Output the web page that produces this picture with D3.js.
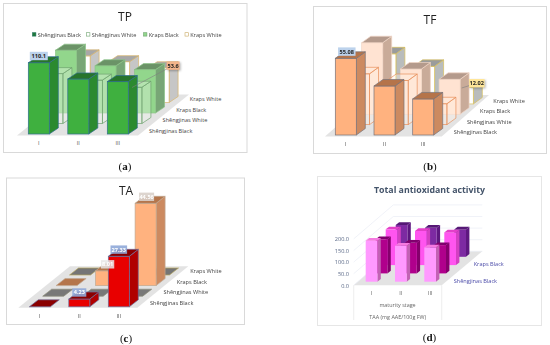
<!DOCTYPE html>
<html>
<head>
<meta charset="utf-8">
<script src="https://cdn.jsdelivr.net/npm/d3@7"></script>
<style>
  html, body { margin: 0; padding: 0; background: #fff; }
  svg { display: block; filter: blur(0.3px); font-family: "Open Sans", sans-serif; }
</style>
</head>
<body>
<div class="workspace"></div>
<script>
const categories = ['I', 'II', 'III'];
const rowNames = ['Shēngjinas Black', 'Shēngjinas White', 'Kraps Black', 'Kraps White'];

const tpShengjinasBlack = [110.1, 85, 81];
const tpShengjinasWhite = [77, 67, 56];
const tpKrapsBlack = [97, 73, 67];
const tpKrapsWhite = [72, 63, 53.6];

const tfShengjinasBlack = [55.08, 35.2, 25.9];
const tfShengjinasWhite = [36.5, 31.7, 15];
const tfKrapsBlack = [51.4, 32.5, 25.1];
const tfKrapsWhite = [36, 27, 12.02];

const taShengjinasBlack = [0, 4.23, 27.33];
const taShengjinasWhite = [0, 0, 0];
const taKrapsBlack = [0, 8.01, 44.56];
const taKrapsWhite = [0, 0, 0];

const taaShengjinasBlack = [177, 155, 148];
const taaShengjinasWhite = [147, 132, 122];
const taaKrapsBlack = [154, 147, 141];
const taaKrapsWhite = [137, 125, 118];
const taaTicks = [0, 50, 100, 150, 200];

const svgDom = d3
  .select('.workspace')
  .append('svg')
  .attr('width', 550)
  .attr('height', 345);

const palette = {
  tp: [
    { front: '#3fb03f', side: '#2b8a2f', top: '#27752b', stroke: '#2f6f8f', opacity: 1 },
    { front: '#f4fbf2', side: '#eef7ec', top: '#f4fbf2', stroke: '#6fa36f', opacity: 0.35 },
    { front: '#92d68c', side: '#78a676', top: '#6b9367', stroke: '#8cc488', opacity: 1 },
    { front: '#ffffff', side: '#c6c6c6', top: '#a8a8a8', stroke: '#d8b46c', opacity: 1 },
  ],
  tf: [
    { front: '#ffb27f', side: '#cc8a60', top: '#b5744a', stroke: '#77727a', opacity: 1 },
    { front: '#fff0e6', side: '#fff0e6', top: '#fff0e6', stroke: '#e8905c', opacity: 0.35 },
    { front: '#ffe3d2', side: '#c9ab99', top: '#b49a8c', stroke: '#f0d6c6', opacity: 1 },
    { front: '#ffffff', side: '#b9bcbc', top: '#9a9c9c', stroke: '#d8c05a', opacity: 1 },
  ],
  ta: [
    { front: '#e80000', side: '#b00000', top: '#8a0000', stroke: '#6f6f9c', opacity: 1 },
    { front: '#ffffff', side: '#999999', top: '#787878', stroke: '#8c8c78', opacity: 1 },
    { front: '#ffb27f', side: '#cc8a60', top: '#b5764c', stroke: '#c0a890', opacity: 1 },
    { front: '#ffffff', side: '#888888', top: '#757575', stroke: '#b8a860', opacity: 1 },
  ],
  taa: [
    { front: '#ff99ff', side: '#c262b4', top: '#f57ae0', stroke: 'none', opacity: 1 },
    { front: '#b0008c', side: '#85006c', top: '#80006e', stroke: 'none', opacity: 1 },
    { front: '#ff55ef', side: '#d340c2', top: '#e33fc8', stroke: 'none', opacity: 1 },
    { front: '#7d2aa2', side: '#5e1880', top: '#561876', stroke: 'none', opacity: 1 },
  ],
};

function polygonPoints(corners) {
  return corners.map((c) => c.join(',')).join(' ');
}

// one 3d bar panel, rows run from the front of the floor to the back
function drawPanel(p) {
  const g = svgDom.append('g');

  g.append('rect')
    .attr('x', p.frame[0])
    .attr('y', p.frame[1])
    .attr('width', p.frame[2] - p.frame[0])
    .attr('height', p.frame[3] - p.frame[1])
    .style('fill', '#fff')
    .style('stroke', p.frameColor || '#d9d9d9')
    .style('stroke-width', 1);

  const x = d3
    .scaleBand()
    .domain(categories)
    .range([p.barLeft, p.barRight])
    .paddingInner(1 - p.barWidth / p.barStep)
    .paddingOuter(0);
  const rowX = d3.scalePoint().domain(rowNames).range([0, p.rowDx * 3]);
  const rowY = d3.scalePoint().domain(rowNames).range([0, p.rowDy * 3]);
  const h = d3.scaleLinear().domain([0, p.scaleValue]).range([0, p.scalePx]);

  // floor
  g.append('polygon')
    .attr('points', polygonPoints(p.floor))
    .style('fill', '#e3e3e3');

  if (p.drawExtras) {
    p.drawExtras(g, x);
  }

  const bars = [];
  rowNames.forEach((row, r) => {
    categories.forEach((cat, c) => {
      bars.push({ row, cat, value: p.series[r][c], style: p.styles[r], r });
    });
  });
  bars.sort((a, b) => b.r - a.r);

  const barDom = g
    .selectAll('g.bar')
    .data(bars)
    .enter()
    .append('g')
    .attr('class', 'bar');

  function corners(d) {
    const left = x(d.cat) + rowX(d.row);
    const right = left + x.bandwidth();
    const base = p.baseY - rowY(d.row);
    const top = base - h(d.value);
    return { left, right, base, top };
  }

  barDom
    .filter((d) => d.value > 0)
    .append('polygon')
    .attr('points', function (d) {
      const b = corners(d);
      return polygonPoints([
        [b.right, b.top],
        [b.right + p.depthX, b.top - p.depthY],
        [b.right + p.depthX, b.base - p.depthY],
        [b.right, b.base],
      ]);
    })
    .style('fill', (d) => d.style.side)
    .style('fill-opacity', (d) => d.style.opacity)
    .style('stroke', (d) => d.style.stroke)
    .style('stroke-width', 0.7);

  barDom
    .filter((d) => d.value > 0)
    .append('rect')
    .attr('x', (d) => corners(d).left)
    .attr('y', (d) => corners(d).top)
    .attr('width', x.bandwidth())
    .attr('height', (d) => h(d.value))
    .style('fill', (d) => d.style.front)
    .style('fill-opacity', (d) => d.style.opacity)
    .style('stroke', (d) => d.style.stroke)
    .style('stroke-width', 0.7);

  barDom
    .append('polygon')
    .attr('points', function (d) {
      const b = corners(d);
      return polygonPoints([
        [b.left, b.top],
        [b.right, b.top],
        [b.right + p.depthX, b.top - p.depthY],
        [b.left + p.depthX, b.top - p.depthY],
      ]);
    })
    .style('fill', (d) => d.style.top)
    .style('fill-opacity', (d) => d.style.opacity)
    .style('stroke', (d) => d.style.stroke)
    .style('stroke-width', 0.7);

  // category axis
  const axis = g
    .append('g')
    .attr('transform', `translate(${p.axisDx},${p.axisY})`)
    .call(d3.axisBottom(x).tickSize(0).tickPadding(0));
  axis.select('.domain').remove();
  axis
    .selectAll('text')
    .attr('dy', 0)
    .style('font-size', '5.5px')
    .style('font-family', '"Open Sans", sans-serif')
    .style('fill', p.tickColor || '#555');

  // series names along the right edge of the floor
  g.selectAll('text.rowName')
    .data(p.rowLabels || rowNames)
    .enter()
    .append('text')
    .attr('class', 'rowName')
    .attr('x', (d) => p.rowLabelX + rowX(d))
    .attr('y', (d) => p.rowLabelY - rowY(d))
    .style('font-size', '5.6px')
    .style('fill', p.rowLabelColor || '#444')
    .text((d) => d);

  // leader lines and value labels
  (p.valueLabels || []).forEach((l) => {
    const bar = bars.find((d) => d.r === l.r && d.cat === l.cat);
    const b = corners(bar);
    const cx = b.left + x.bandwidth() / 2 + l.dx;
    const cy = b.top + l.dy;
    if (l.leader) {
      g.append('line')
        .attr('x1', l.leader[0])
        .attr('y1', l.leader[1])
        .attr('x2', cx)
        .attr('y2', cy)
        .style('stroke', '#808080')
        .style('stroke-width', 0.6);
    }
    const box = g
      .append('rect')
      .attr('x', cx - l.w / 2)
      .attr('y', cy - 4.2)
      .attr('width', l.w)
      .attr('height', 8.4)
      .style('fill', l.fill)
      .style('fill-opacity', l.alpha || 1);
    if (l.shadow) {
      box.style('filter', 'drop-shadow(1px 1px 1px rgba(0,0,0,0.3))');
    }
    g.append('text')
      .attr('x', cx)
      .attr('y', cy + 2)
      .attr('text-anchor', 'middle')
      .style('font-size', '5.6px')
      .style('font-weight', 700)
      .style('fill', l.color || '#222')
      .text(d3.format(l.format || '')(bar.value));
  });

  // title
  g.append('text')
    .attr('x', p.titleX)
    .attr('y', p.titleY)
    .attr('text-anchor', 'middle')
    .style('font-size', p.titleSize || '12px')
    .style('font-weight', p.titleWeight || 400)
    .style('fill', p.titleColor || '#222')
    .text(p.title);

  // panel letter
  const letter = g
    .append('text')
    .attr('x', p.titleX)
    .attr('y', p.letterY)
    .attr('text-anchor', 'middle')
    .style('font-family', '"Liberation Serif", serif')
    .style('font-size', '11px')
    .style('fill', '#111');
  letter.append('tspan').text('(');
  letter.append('tspan').style('font-weight', 700).text(p.letter);
  letter.append('tspan').text(')');

  return g;
}

drawPanel({
  title: 'TP',
  letter: 'a',
  frame: [3.5, 3.5, 247, 152.5],
  titleX: 125,
  titleY: 21,
  letterY: 170,
  barLeft: 28.3,
  barRight: 128.3,
  barWidth: 21,
  barStep: 39.5,
  rowDx: 13.6,
  rowDy: 10.5,
  depthX: 9,
  depthY: 6,
  baseY: 134,
  scaleValue: 110.1,
  scalePx: 71.3,
  floor: [[17, 135.5], [138, 135.5], [189, 94.5], [68, 94.5]],
  axisDx: 0,
  axisY: 145,
  rowLabelX: 149,
  rowLabelY: 132.5,
  series: [tpShengjinasBlack, tpShengjinasWhite, tpKrapsBlack, tpKrapsWhite],
  styles: palette.tp,
  valueLabels: [
    { r: 0, cat: 'I', dx: 0, dy: -6.7, w: 18, fill: '#bcd2ec' },
    { r: 3, cat: 'III', dx: 14.5, dy: -2.2, w: 13, fill: '#f4b48a', shadow: true, leader: [132, 87.5] },
  ],
});

drawPanel({
  title: 'TF',
  letter: 'b',
  frame: [313.5, 6.5, 546.5, 153.5],
  titleX: 430,
  titleY: 24,
  letterY: 170,
  barLeft: 335.3,
  barRight: 433.7,
  barWidth: 21,
  barStep: 38.7,
  rowDx: 13.2,
  rowDy: 10.35,
  depthX: 9,
  depthY: 6.5,
  baseY: 135,
  scaleValue: 55.08,
  scalePx: 76.7,
  floor: [[325, 136.5], [441.7, 136.5], [489, 95], [372, 95]],
  axisDx: 0,
  axisY: 146,
  rowLabelX: 453.7,
  rowLabelY: 134,
  series: [tfShengjinasBlack, tfShengjinasWhite, tfKrapsBlack, tfKrapsWhite],
  styles: palette.tf,
  valueLabels: [
    { r: 0, cat: 'I', dx: 1, dy: -6.7, w: 17.5, fill: '#bcd2ec', format: '.2f' },
    { r: 3, cat: 'III', dx: 14, dy: -4, w: 15.5, fill: '#ffe699', shadow: true, format: '.2f', leader: [461.7, 88] },
  ],
});

drawPanel({
  title: 'TA',
  letter: 'c',
  frame: [6.5, 178, 244.5, 324.5],
  titleX: 126,
  titleY: 195,
  letterY: 342,
  barLeft: 29.3,
  barRight: 129.3,
  barWidth: 21,
  barStep: 39.5,
  rowDx: 13.4,
  rowDy: 10.6,
  depthX: 9,
  depthY: 7,
  baseY: 306.8,
  scaleValue: 44.56,
  scalePx: 82.3,
  floor: [[18.3, 307.7], [137.3, 307.7], [188.3, 266.3], [70, 266.3]],
  axisDx: 0,
  axisY: 317.5,
  rowLabelX: 150,
  rowLabelY: 305,
  series: [taShengjinasBlack, taShengjinasWhite, taKrapsBlack, taKrapsWhite],
  styles: palette.ta,
  valueLabels: [
    { r: 0, cat: 'II', dx: 0, dy: -6.5, w: 14, fill: '#8fa9d8', color: '#fff', format: '.2f', alpha: 0.9 },
    { r: 0, cat: 'III', dx: 0, dy: -6.7, w: 16.6, fill: '#8fa9d8', color: '#fff', format: '.2f', alpha: 0.9 },
    { r: 2, cat: 'II', dx: 1.5, dy: -6.5, w: 13.3, fill: '#e6e6e6', color: '#fff', format: '.2f', alpha: 0.85 },
    { r: 2, cat: 'III', dx: 1, dy: -6.5, w: 15, fill: '#d9d0ca', color: '#fff', format: '.2f', alpha: 0.9 },
  ],
});

drawPanel({
  title: 'Total antioxidant activity',
  letter: 'd',
  frame: [317.5, 176.5, 541.5, 325.5],
  frameColor: '#e6e6e6',
  titleX: 429.5,
  titleY: 192.5,
  titleSize: '8.8px',
  titleWeight: 700,
  titleColor: '#44546a',
  letterY: 341,
  barLeft: 365.7,
  barRight: 436,
  barWidth: 11.7,
  barStep: 29.3,
  rowDx: 10,
  rowDy: 8.3,
  depthX: 3.4,
  depthY: 2.7,
  baseY: 281.7,
  scaleValue: 200,
  scalePx: 46.4,
  floor: [[353.7, 285.3], [441.7, 285.3], [482.3, 251.3], [393.3, 251.3]],
  axisDx: 0,
  axisY: 294.5,
  rowLabels: ['Shēngjinas Black', 'Kraps Black'],
  rowLabelX: 453.7,
  rowLabelY: 283,
  rowLabelColor: '#4a4aa8',
  tickColor: '#666',
  series: [taaShengjinasBlack, taaShengjinasWhite, taaKrapsBlack, taaKrapsWhite],
  styles: palette.taa,
  drawExtras: function (g) {
    const y = d3.scaleLinear().domain([0, 200]).range([285.3, 238.9]);
    const wallLine = d3.line();

    // gridlines over the side wall and back wall
    g.selectAll('path.grid')
      .data(taaTicks)
      .enter()
      .append('path')
      .attr('class', 'grid')
      .attr('d', (d) =>
        wallLine([
          [353.7, y(d)],
          [393.3, y(d) - 34],
          [482.3, y(d) - 34],
        ])
      )
      .style('fill', 'none')
      .style('stroke', '#e9edf5')
      .style('stroke-width', 0.7);

    const axis = g
      .append('g')
      .attr('transform', 'translate(349,0)')
      .call(
        d3.axisLeft(y).tickValues(taaTicks).tickFormat(d3.format('.1f')).tickSize(0).tickPadding(0)
      );
    axis.select('.domain').remove();
    axis
      .selectAll('text')
      .style('font-size', '5.6px')
      .style('font-family', '"Open Sans", sans-serif')
      .style('fill', '#5c6a88');

    // the multi-level axis table under the floor
    g.selectAll('line.tableLine')
      .data([353.7, 441.7])
      .enter()
      .append('line')
      .attr('class', 'tableLine')
      .attr('x1', (d) => d)
      .attr('x2', (d) => d)
      .attr('y1', 285.3)
      .attr('y2', 320)
      .style('stroke', '#e6e6e6')
      .style('stroke-width', 0.7);

    g.append('text')
      .attr('x', 397.5)
      .attr('y', 306.7)
      .attr('text-anchor', 'middle')
      .style('font-size', '5.4px')
      .style('fill', '#666')
      .text('maturity stage');
    g.append('text')
      .attr('x', 397.7)
      .attr('y', 319)
      .attr('text-anchor', 'middle')
      .style('font-size', '5.4px')
      .style('fill', '#666')
      .text('TAA (mg AAE/100g FW)');
  },
});

// legend of the TP panel
const legendItems = [
  { name: rowNames[0], x: 32.5, fill: '#1f7a3a', stroke: '#1f6f5a' },
  { name: rowNames[1], x: 86.5, fill: '#ffffff', stroke: '#6fa36f' },
  { name: rowNames[2], x: 143.5, fill: '#92d68c', stroke: '#6fa36f' },
  { name: rowNames[3], x: 185, fill: '#ffffff', stroke: '#c8a860' },
];
const legendDom = svgDom.append('g');
legendDom
  .selectAll('rect')
  .data(legendItems)
  .enter()
  .append('rect')
  .attr('x', (d) => d.x)
  .attr('y', 32.7)
  .attr('width', 3.4)
  .attr('height', 3.4)
  .style('fill', (d) => d.fill)
  .style('stroke', (d) => d.stroke)
  .style('stroke-width', 0.6);
legendDom
  .selectAll('text')
  .data(legendItems)
  .enter()
  .append('text')
  .attr('x', (d) => d.x + 5.2)
  .attr('y', 36.7)
  .style('font-size', '5.6px')
  .style('fill', '#444')
  .text((d) => d.name);
</script>
</body>
</html>
